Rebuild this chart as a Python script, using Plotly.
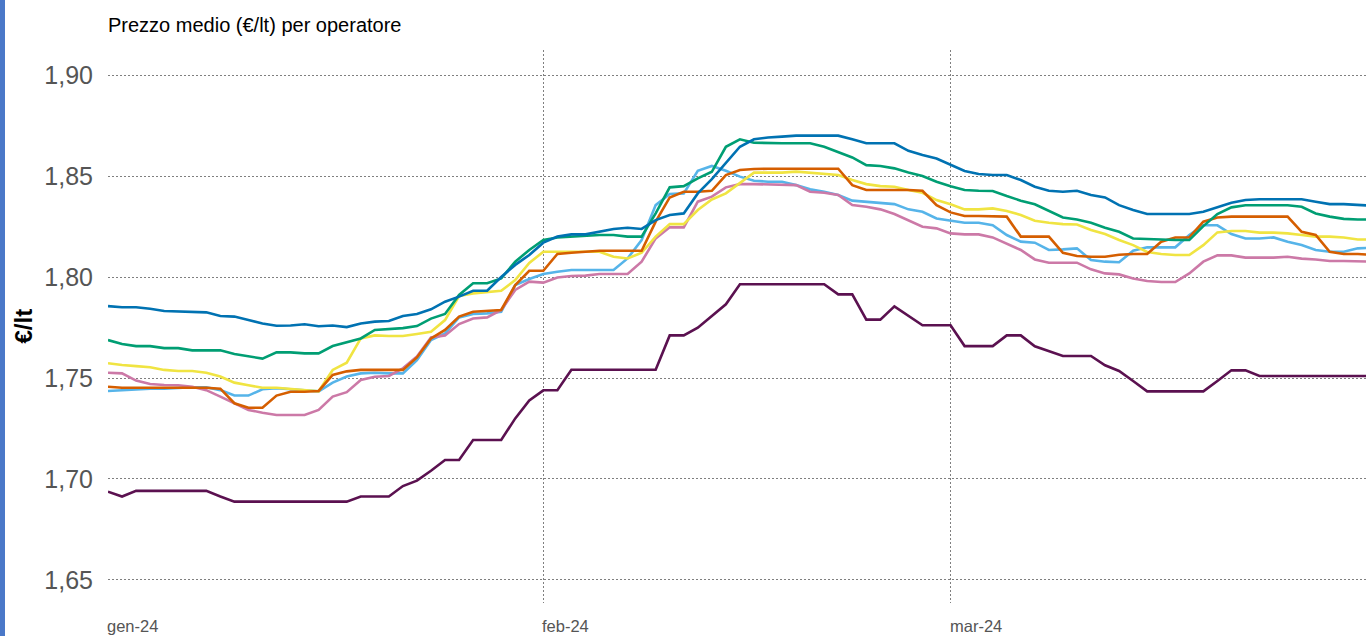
import pandas as pd
import plotly.graph_objects as go

# Daily average price (€/lt) per operator, 1 Jan – 31 Mar 2024
dates = pd.date_range("2024-01-01", periods=91, freq="D")

op_blu = [1.7856, 1.7850, 1.7850, 1.7843, 1.7832, 1.7830, 1.7825, 1.7825, 1.7807, 1.7804,
          1.7787, 1.7770, 1.7759, 1.7760, 1.7766, 1.7756, 1.7760, 1.7752, 1.7770, 1.7779,
          1.7782, 1.7807, 1.7817, 1.7840, 1.7878, 1.7903, 1.7932, 1.7932, 1.8000, 1.8060,
          1.8109, 1.8170, 1.8200, 1.8211, 1.8211, 1.8224, 1.8238, 1.8244, 1.8238, 1.8282,
          1.8307, 1.8315, 1.8414, 1.8485, 1.8563, 1.8645, 1.8682, 1.8691, 1.8695, 1.8700,
          1.8700, 1.8700, 1.8700, 1.8682, 1.8662, 1.8662, 1.8662, 1.8625, 1.8604, 1.8587,
          1.8554, 1.8525, 1.8510, 1.8505, 1.8505, 1.8480, 1.8447, 1.8427, 1.8422, 1.8427,
          1.8406, 1.8394, 1.8356, 1.8332, 1.8312, 1.8312, 1.8312, 1.8312, 1.8323, 1.8345,
          1.8368, 1.8381, 1.8385, 1.8385, 1.8385, 1.8385, 1.8373, 1.8361, 1.8361, 1.8356,
          1.8353]

op_verde = [1.7688, 1.7668, 1.7658, 1.7658, 1.7648, 1.7648, 1.7637, 1.7637, 1.7637, 1.7619,
            1.7606, 1.7596, 1.7627, 1.7627, 1.7622, 1.7622, 1.7658, 1.7677, 1.7696, 1.7738,
            1.7744, 1.7747, 1.7757, 1.7794, 1.7817, 1.7911, 1.7969, 1.7969, 1.7993, 1.8076,
            1.8134, 1.8183, 1.8196, 1.8200, 1.8203, 1.8208, 1.8208, 1.8200, 1.8200, 1.8315,
            1.8444, 1.8450, 1.8488, 1.8521, 1.8645, 1.8682, 1.8665, 1.8662, 1.8662, 1.8662,
            1.8662, 1.8645, 1.8620, 1.8592, 1.8554, 1.8550, 1.8538, 1.8517, 1.8500, 1.8472,
            1.8450, 1.8431, 1.8427, 1.8426, 1.8401, 1.8378, 1.8360, 1.8328, 1.8295, 1.8285,
            1.8269, 1.8244, 1.8224, 1.8191, 1.8190, 1.8186, 1.8183, 1.8183, 1.8252, 1.8312,
            1.8345, 1.8355, 1.8355, 1.8355, 1.8355, 1.8348, 1.8315, 1.8299, 1.8288, 1.8285,
            1.8285]

op_arancio = [1.7457, 1.7452, 1.7452, 1.7452, 1.7454, 1.7454, 1.7454, 1.7452, 1.7447, 1.7375,
              1.7353, 1.7353, 1.7413, 1.7432, 1.7432, 1.7436, 1.7515, 1.7533, 1.7540, 1.7540,
              1.7540, 1.7540, 1.7602, 1.7696, 1.7738, 1.7804, 1.7828, 1.7832, 1.7837, 1.7960,
              1.8031, 1.8031, 1.8114, 1.8120, 1.8125, 1.8130, 1.8130, 1.8130, 1.8130, 1.8274,
              1.8394, 1.8422, 1.8422, 1.8427, 1.8505, 1.8530, 1.8535, 1.8536, 1.8536, 1.8536,
              1.8536, 1.8536, 1.8536, 1.8455, 1.8431, 1.8431, 1.8431, 1.8431, 1.8427, 1.8356,
              1.8320, 1.8302, 1.8302, 1.8299, 1.8299, 1.8200, 1.8200, 1.8200, 1.8120, 1.8104,
              1.8100, 1.8100, 1.8110, 1.8114, 1.8114, 1.8175, 1.8196, 1.8196, 1.8274, 1.8295,
              1.8299, 1.8299, 1.8299, 1.8299, 1.8299, 1.8224, 1.8208, 1.8125, 1.8114, 1.8114,
              1.8110]

op_giallo = [1.7573, 1.7564, 1.7559, 1.7553, 1.7540, 1.7535, 1.7535, 1.7526, 1.7507, 1.7477,
             1.7464, 1.7452, 1.7452, 1.7446, 1.7437, 1.7434, 1.7540, 1.7576, 1.7696, 1.7711,
             1.7708, 1.7708, 1.7718, 1.7729, 1.7787, 1.7906, 1.7919, 1.7927, 1.7932, 1.7985,
             1.8070, 1.8125, 1.8125, 1.8125, 1.8125, 1.8125, 1.8100, 1.8092, 1.8120, 1.8200,
             1.8262, 1.8262, 1.8332, 1.8384, 1.8414, 1.8464, 1.8517, 1.8517, 1.8517, 1.8522,
             1.8517, 1.8513, 1.8505, 1.8480, 1.8460, 1.8450, 1.8447, 1.8431, 1.8417, 1.8381,
             1.8360, 1.8335, 1.8335, 1.8340, 1.8327, 1.8307, 1.8279, 1.8269, 1.8262, 1.8260,
             1.8233, 1.8213, 1.8183, 1.8158, 1.8124, 1.8114, 1.8109, 1.8109, 1.8158, 1.8221,
             1.8228, 1.8228, 1.8220, 1.8220, 1.8216, 1.8208, 1.8200, 1.8200, 1.8196, 1.8186,
             1.8186]

op_azzurro = [1.7436, 1.7440, 1.7444, 1.7447, 1.7447, 1.7452, 1.7454, 1.7454, 1.7440, 1.7413,
              1.7413, 1.7444, 1.7449, 1.7444, 1.7440, 1.7434, 1.7477, 1.7507, 1.7523, 1.7526,
              1.7523, 1.7523, 1.7589, 1.7688, 1.7721, 1.7800, 1.7817, 1.7820, 1.7828, 1.7960,
              1.7990, 1.8015, 1.8026, 1.8035, 1.8035, 1.8035, 1.8035, 1.8092, 1.8183, 1.8356,
              1.8411, 1.8414, 1.8526, 1.8550, 1.8526, 1.8497, 1.8477, 1.8472, 1.8472, 1.8455,
              1.8434, 1.8422, 1.8406, 1.8378, 1.8373, 1.8368, 1.8361, 1.8335, 1.8323, 1.8290,
              1.8280, 1.8269, 1.8269, 1.8257, 1.8208, 1.8175, 1.8170, 1.8134, 1.8137, 1.8142,
              1.8084, 1.8076, 1.8073, 1.8130, 1.8147, 1.8147, 1.8147, 1.8208, 1.8256, 1.8256,
              1.8213, 1.8191, 1.8191, 1.8196, 1.8175, 1.8158, 1.8134, 1.8125, 1.8125, 1.8142,
              1.8145]

op_rosa = [1.7526, 1.7523, 1.7487, 1.7470, 1.7465, 1.7464, 1.7457, 1.7440, 1.7408, 1.7375,
           1.7342, 1.7328, 1.7317, 1.7317, 1.7317, 1.7342, 1.7408, 1.7430, 1.7490, 1.7506,
           1.7510, 1.7548, 1.7606, 1.7701, 1.7711, 1.7767, 1.7795, 1.7800, 1.7837, 1.7936,
           1.7977, 1.7972, 1.7998, 1.8005, 1.8007, 1.8015, 1.8015, 1.8015, 1.8076, 1.8191,
           1.8246, 1.8246, 1.8373, 1.8398, 1.8444, 1.8460, 1.8460, 1.8459, 1.8459, 1.8455,
           1.8422, 1.8417, 1.8406, 1.8356, 1.8348, 1.8335, 1.8312, 1.8282, 1.8249, 1.8241,
           1.8216, 1.8211, 1.8211, 1.8196, 1.8167, 1.8134, 1.8087, 1.8071, 1.8071, 1.8071,
           1.8038, 1.8018, 1.8013, 1.7993, 1.7980, 1.7975, 1.7975, 1.8018, 1.8076, 1.8107,
           1.8107, 1.8096, 1.8096, 1.8096, 1.8100, 1.8091, 1.8087, 1.8079, 1.8079, 1.8079,
           1.8076]

op_viola = [1.6937, 1.6913, 1.6941, 1.6941, 1.6941, 1.6941, 1.6941, 1.6941, 1.6913, 1.6888,
            1.6888, 1.6888, 1.6888, 1.6888, 1.6888, 1.6888, 1.6888, 1.6888, 1.6913, 1.6913,
            1.6913, 1.6965, 1.6992, 1.7041, 1.7094, 1.7094, 1.7193, 1.7193, 1.7193, 1.7300,
            1.7389, 1.7439, 1.7439, 1.7541, 1.7541, 1.7541, 1.7541, 1.7541, 1.7541, 1.7541,
            1.7711, 1.7711, 1.7749, 1.7805, 1.7865, 1.7964, 1.7964, 1.7964, 1.7964, 1.7964,
            1.7964, 1.7964, 1.7914, 1.7914, 1.7789, 1.7789, 1.7855, 1.7810, 1.7761, 1.7761,
            1.7761, 1.7658, 1.7658, 1.7658, 1.7711, 1.7711, 1.7657, 1.7632, 1.7609, 1.7609,
            1.7609, 1.7563, 1.7535, 1.7485, 1.7434, 1.7434, 1.7434, 1.7434, 1.7434, 1.7485,
            1.7538, 1.7538, 1.7510, 1.7510, 1.7510, 1.7510, 1.7510, 1.7510, 1.7510, 1.7510,
            1.7510]

series = [
    ("Operatore 1", op_azzurro, "#56B4E9"),
    ("Operatore 2", op_rosa, "#CC79A7"),
    ("Operatore 3", op_giallo, "#F0E442"),
    ("Operatore 4", op_arancio, "#D55E00"),
    ("Operatore 5", op_verde, "#009E73"),
    ("Operatore 6", op_blu, "#0072B2"),
    ("Operatore 7", op_viola, "#5B1150"),
]

month_ticks = ["2024-01-01", "2024-02-01", "2024-03-01"]
month_labels = ["gen-24", "feb-24", "mar-24"]
y_ticks = [1.65, 1.70, 1.75, 1.80, 1.85, 1.90]

fig = go.Figure()
for name, vals, color in series:
    fig.add_trace(go.Scatter(
        x=dates, y=vals, name=name, mode="lines",
        line=dict(color=color, width=2.6),
    ))

grid = dict(showgrid=True, gridcolor="#7f7f7f", gridwidth=1, griddash="2px,2px",
            zeroline=False, showline=False)

fig.update_xaxes(
    type="date",
    range=["2024-01-01", "2024-03-30 14:00"],
    tickvals=month_ticks, showticklabels=False, ticks="",
    **grid,
)
fig.update_yaxes(
    range=[1.6386, 1.9124],
    tickvals=y_ticks, tickformat=".2f", ticks="",
    ticklabelstandoff=14,
    tickfont=dict(family="Liberation Sans, Arial, sans-serif", size=25, color="#555555"),
    **grid,
)

# Month labels, left-aligned on each gridline
for d, lab in zip(month_ticks, month_labels):
    fig.add_annotation(
        x=d, xref="x", y=0, yref="paper", yanchor="middle", xanchor="left",
        yshift=-23, xshift=-3, text=lab, showarrow=False,
        font=dict(family="Liberation Sans, Arial, sans-serif", size=16.5, color="#555555"),
    )

# Axis title
fig.add_annotation(
    x=0, xref="paper", xshift=-85, y=0.5, yref="paper", xanchor="center", yanchor="middle",
    text="<b>€/lt</b>", textangle=-90, showarrow=False,
    font=dict(family="Liberation Sans, Arial, sans-serif", size=24, color="#000000"),
)

# Blue accent strip on the page edge
fig.add_shape(
    type="rect", xref="paper", yref="paper", xsizemode="pixel", xanchor=0,
    x0=-108, x1=-103, y0=-1, y1=2, fillcolor="#4A78C8", line=dict(width=0), layer="below",
)

fig.update_layout(
    width=1366, height=636,
    margin=dict(l=108, r=0, t=50, b=33),
    paper_bgcolor="white", plot_bgcolor="white",
    separators=",.",
    showlegend=False,
    title=dict(
        text="Prezzo medio (€/lt) per operatore",
        x=0, xref="paper", xanchor="left",
        y=1 - 25 / 636, yref="container", yanchor="middle",
        font=dict(family="Liberation Sans, Arial, sans-serif", size=20, color="#000000"),
    ),
    font=dict(family="Liberation Sans, Arial, sans-serif"),
)

fig.write_html("out.html")
